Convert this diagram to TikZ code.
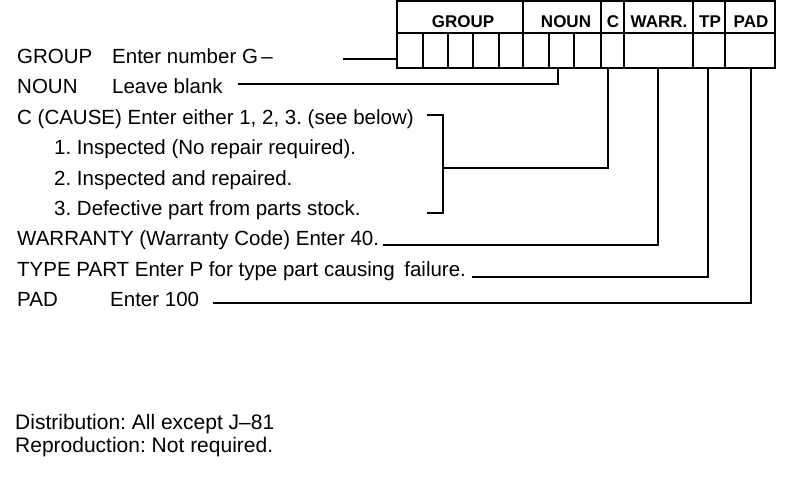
\documentclass[tikz,border=0pt]{standalone}
\usepackage{fontspec}
\setmainfont{Liberation Sans}
\frenchspacing
\begin{document}
\begin{tikzpicture}[x=1pt,y=-1pt,
    lbl/.style={anchor=base west,inner sep=0pt,font=\fontsize{20.5}{24}\selectfont},
    foot/.style={anchor=base west,inner sep=0pt,font=\fontsize{21}{24}\selectfont},
    hdr/.style={anchor=base,inner sep=0pt,font=\fontsize{17}{20}\selectfont\bfseries},
    lead/.style={line width=1.9pt}]
  \useasboundingbox (0,0) rectangle (800,485);
  % code card
  \coordinate (tblnw) at (397,1);
  \coordinate (tblse) at (775,68);
  \draw[lead] (tblnw) rectangle (tblse);
  \draw[lead] (397,33) -- (775,33);
  \foreach \x in {523,601,624,693,725} \draw[lead] (\x,1) -- (\x,68);
  \foreach \x in {423,448,473,499,549,574} \draw[lead] (\x,33) -- (\x,68);
  \node[hdr] (hgroup) at (463,27) {GROUP};
  \node[hdr] (hnoun) at (566,27) {NOUN};
  \node[hdr] (hcause) at (613,27) {C};
  \node[hdr] (hwarr) at (659,27) {WARR.};
  \node[hdr] (htp) at (710,27) {TP};
  \node[hdr] (hpad) at (751,27) {PAD};
  \coordinate (nouncell) at (558,68);
  \coordinate (ccell) at (608,68);
  \coordinate (warrcell) at (658,68);
  \coordinate (tpcell) at (708,68);
  \coordinate (padcell) at (751,68);
  % entries
  \node[lbl] (group) at (17,63) {\makebox[95pt][l]{GROUP}Enter number G\,–};
  \node[lbl] (noun) at (17,93) {\makebox[95pt][l]{NOUN}Leave blank};
  \node[lbl] (cause) at (17,124) {C (CAUSE) Enter either 1, 2, 3. (see below)};
  \node[lbl] (insp) at (54,154) {1. Inspected (No repair required).};
  \node[lbl] (repd) at (54,185) {2. Inspected and repaired.};
  \node[lbl] (defect) at (54,215) {3. Defective part from parts stock.};
  \node[lbl] (warr) at (17,245) {WARRANTY (Warranty Code) Enter 40.};
  \node[lbl] (tpart) at (17,276) {TYPE PART Enter P for type part causing\hspace{4pt} failure.};
  \node[lbl] (pad) at (17,306) {\makebox[93pt][l]{PAD}Enter 100};
  \node[foot] (distr) at (15,429) {Distribution: All except J–81};
  \node[foot] (repro) at (15,452) {Reproduction: Not required.};
  % leaders
  \coordinate (grpstart) at (343,59);
  \coordinate (nounstart) at (238,84);
  \coordinate (brtop) at (427,115);
  \coordinate (brbot) at (427,213);
  \coordinate (brmid) at (443,168);
  \coordinate (warrstart) at (383,245);
  \coordinate (tpstart) at (472,277);
  \coordinate (padstart) at (213,303);
  \draw[lead] (grpstart) -- (grpstart -| tblnw);
  \draw[lead] (nounstart) -- (nounstart -| nouncell) -- (nouncell);
  \draw[lead] (brtop) -- (brtop -| brmid) -- (brbot -| brmid) -- (brbot);
  \draw[lead] (brmid) -- (brmid -| ccell) -- (ccell);
  \draw[lead] (warrstart) -- (warrstart -| warrcell) -- (warrcell);
  \draw[lead] (tpstart) -- (tpstart -| tpcell) -- (tpcell);
  \draw[lead] (padstart) -- (padstart -| padcell) -- (padcell);
\end{tikzpicture}
\end{document}
